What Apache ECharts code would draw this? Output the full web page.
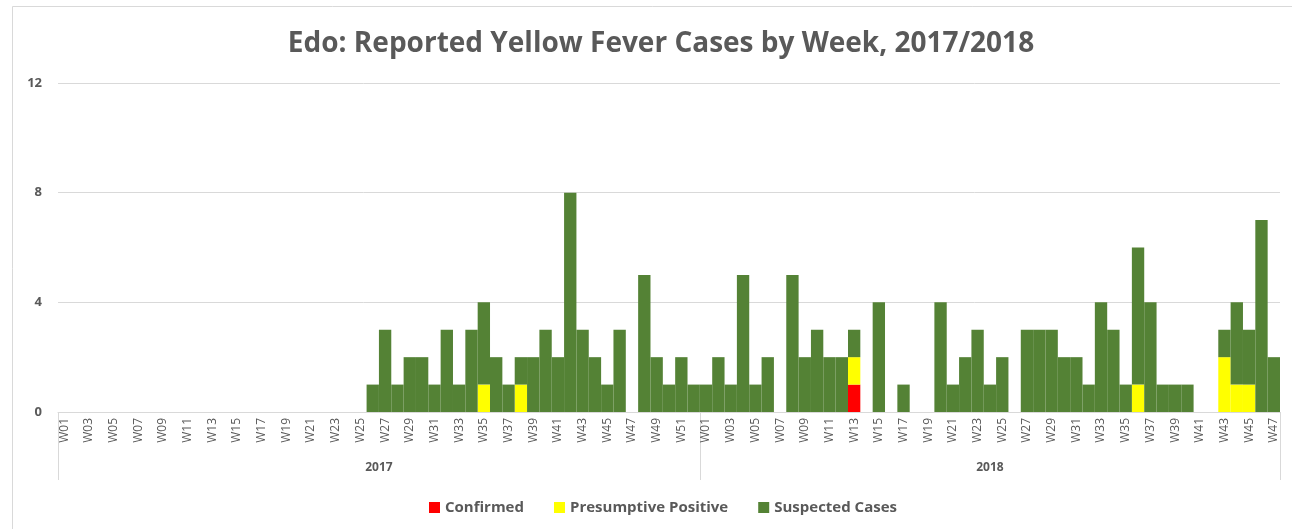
<!DOCTYPE html>
<html>
<head>
<meta charset="utf-8">
<script src="https://cdn.jsdelivr.net/npm/echarts@6/dist/echarts.min.js"></script>
<style>
  html, body { margin: 0; padding: 0; background: #fff; }
  #main { width: 1292px; height: 529px; }
</style>
</head>
<body>
<div id="main"></div>
<script>
// years and how many weeks each one shows
var years = ['2017', '2018']
var weekCounts = [52, 47]

// 2017, W01..W52
var confirmed2017 = [
  0,0,0,0,0,0,0,0,0,0, 0,0,0,0,0,0,0,0,0,0, 0,0,0,0,0,0,0,0,0,0,
  0,0,0,0,0,0,0,0,0,0, 0,0,0,0,0,0,0,0,0,0, 0,0
]
var presumptive2017 = [
  0,0,0,0,0,0,0,0,0,0, 0,0,0,0,0,0,0,0,0,0, 0,0,0,0,0,0,0,0,0,0,
  0,0,0,0,1,0,0,1,0,0, 0,0,0,0,0,0,0,0,0,0, 0,0
]
var suspected2017 = [
  0,0,0,0,0,0,0,0,0,0, 0,0,0,0,0,0,0,0,0,0, 0,0,0,0,0,1,3,1,2,2,
  1,3,1,3,3,2,1,1,2,3, 2,8,3,2,1,3,0,5,2,1, 2,1
]

// 2018, W01..W47
var confirmed2018 = [
  0,0,0,0,0,0,0,0,0,0, 0,0,1,0,0,0,0,0,0,0, 0,0,0,0,0,0,0,0,0,0,
  0,0,0,0,0,0,0,0,0,0, 0,0,0,0,0,0,0
]
var presumptive2018 = [
  0,0,0,0,0,0,0,0,0,0, 0,0,1,0,0,0,0,0,0,0, 0,0,0,0,0,0,0,0,0,0,
  0,0,0,0,0,1,0,0,0,0, 0,0,2,1,1,0,0
]
var suspected2018 = [
  1,2,1,5,1,2,0,5,2,3, 2,2,1,0,4,0,1,0,0,4, 1,2,3,1,2,0,3,3,3,2,
  2,1,4,3,1,5,4,1,1,1, 0,0,1,3,2,7,2
]

var yTicks = [0, 4, 8, 12]

var grey = '#595959'
var fontFamily = '"Open Sans", "Liberation Sans", sans-serif'

// week labels W01.. per year, laid end to end
var weeks = []
weekCounts.forEach(function (n) {
  for (var i = 1; i <= n; i++) {
    weeks.push('W' + (i < 10 ? '0' + i : i))
  }
})
var total = weeks.length

// year borders and year label centres along the category axis
var yearBounds = [0]
var yearCentres = []
weekCounts.forEach(function (n, i) {
  var start = yearBounds[i]
  yearBounds.push(start + n)
  yearCentres.push(start + n / 2)
})

var myChart = echarts.init(document.getElementById('main'))
var option = {
  animation: false,
  backgroundColor: '#ffffff',
  title: {
    text: 'Edo: Reported Yellow Fever Cases by Week, 2017/2018',
    left: 656,
    textAlign: 'center',
    top: 25,
    textStyle: {
      color: grey,
      fontFamily: fontFamily,
      fontWeight: 'bold',
      fontSize: 28
    }
  },
  legend: {
    bottom: 9,
    left: 424,
    itemWidth: 11,
    itemHeight: 11,
    itemGap: 30,
    icon: 'rect',
    textStyle: {
      color: grey,
      fontFamily: fontFamily,
      fontWeight: 'bold',
      fontSize: 15
    },
    data: ['Confirmed', 'Presumptive Positive', 'Suspected Cases']
  },
  graphic: [{
    type: 'rect',
    shape: { x: 12.5, y: 6.5, width: 1300, height: 540 },
    style: { fill: 'none', stroke: '#d9d9d9', lineWidth: 1 },
    silent: true,
    z: -1
  }],
  grid: {
    left: 58,
    right: 12,
    top: 83,
    bottom: 117
  },
  xAxis: [{
    type: 'category',
    data: weeks,
    boundaryGap: true,
    axisLine: { lineStyle: { color: '#d9d9d9', width: 1 } },
    axisTick: { show: false },
    axisLabel: {
      interval: 1,
      rotate: 90,
      margin: 6,
      color: grey,
      fontFamily: fontFamily,
      fontSize: 12
    }
  }, {
    type: 'value',
    position: 'bottom',
    min: 0,
    max: total,
    axisLine: { show: false },
    splitLine: { show: false },
    axisTick: {
      show: true,
      customValues: yearBounds,
      length: 68,
      lineStyle: { color: '#d9d9d9', width: 1 }
    },
    axisLabel: {
      customValues: yearCentres,
      margin: 50,
      color: grey,
      fontFamily: fontFamily,
      fontWeight: 'bold',
      fontSize: 12,
      formatter: function (v) {
        for (var i = 0; i < years.length; i++) {
          if (v < yearBounds[i + 1]) return years[i]
        }
        return ''
      }
    }
  }],
  yAxis: {
    type: 'value',
    min: yTicks[0],
    max: yTicks[yTicks.length - 1],
    interval: yTicks[1] - yTicks[0],
    axisLine: { show: false },
    axisTick: { show: false },
    axisLabel: {
      margin: 16,
      color: grey,
      fontFamily: fontFamily,
      fontWeight: 'bold',
      fontSize: 13
    },
    splitLine: {
      lineStyle: { color: '#d9d9d9', width: 1 }
    }
  },
  series: [{
    name: 'Confirmed',
    type: 'bar',
    stack: 'cases',
    barCategoryGap: '0%',
    itemStyle: { color: '#ff0000' },
    data: confirmed2017.concat(confirmed2018)
  }, {
    name: 'Presumptive Positive',
    type: 'bar',
    stack: 'cases',
    barCategoryGap: '0%',
    itemStyle: { color: '#ffff00' },
    data: presumptive2017.concat(presumptive2018)
  }, {
    name: 'Suspected Cases',
    type: 'bar',
    stack: 'cases',
    barCategoryGap: '0%',
    itemStyle: { color: '#548235' },
    data: suspected2017.concat(suspected2018)
  }]
}
myChart.setOption(option)
</script>
</body>
</html>
